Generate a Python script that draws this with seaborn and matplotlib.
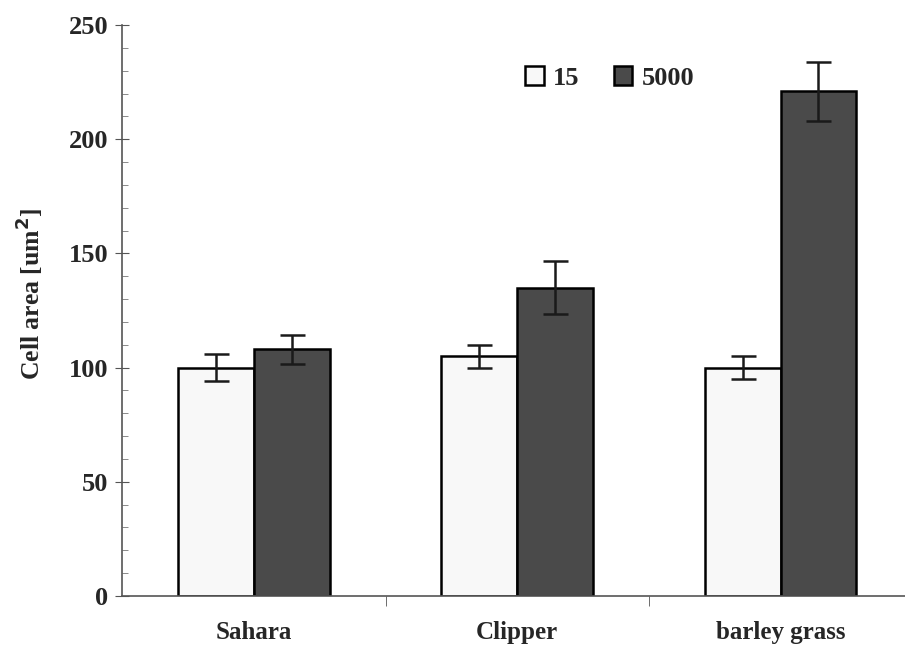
import matplotlib
matplotlib.use("Agg")
import matplotlib.pyplot as plt
import seaborn as sns
import pandas as pd
import numpy as np

categories = ["Sahara", "Clipper", "barley grass"]
groups = ["15", "5000"]
values_15 = [100, 105, 100]
values_5000 = [108, 135, 221]
err_15 = [6, 5, 5]
err_5000 = [6.3, 11.6, 13]

rows = []
for c, v in zip(categories, values_15):
    rows.append({"cat": c, "grp": "15", "val": v})
for c, v in zip(categories, values_5000):
    rows.append({"cat": c, "grp": "5000", "val": v})
df = pd.DataFrame(rows)

sns.set_style("ticks")
plt.rcParams['font.family'] = ['Liberation Serif', 'DejaVu Serif']
plt.rcParams['font.weight'] = 'bold'

fig = plt.figure(figsize=(9.05, 6.45), dpi=100)
ax = fig.add_axes([0.135, 0.076, 0.873, 0.885])

palette = {"15": "#f8f8f8", "5000": "#4a4a4a"}
sns.barplot(data=df, x="cat", y="val", hue="grp", hue_order=groups,
            order=categories, palette=palette, edgecolor="black",
            linewidth=1.8, width=0.575, errorbar=None, ax=ax, saturation=1)

for cont, errs in zip(ax.containers, [err_15, err_5000]):
    for bar, e in zip(cont, errs):
        xc = bar.get_x() + bar.get_width() / 2
        ax.errorbar(xc, bar.get_height(), yerr=e, fmt="none", ecolor="#1a1a1a",
                    elinewidth=1.8, capsize=9, capthick=1.8, zorder=5)

ax.set_ylim(0, 250)
ax.set_xlim(-0.5, 2.5)
ax.set_yticks(np.arange(0, 251, 50))
ax.set_yticks(np.arange(0, 251, 10), minor=True)
ax.set_xticks([0.5, 1.5], minor=True)
ax.set_xticks(range(len(categories)))
ax.set_xticklabels(categories, fontsize=18, fontweight="bold")
ax.tick_params(axis="x", which="major", length=0, pad=18)
ax.tick_params(axis="x", which="minor", length=7, direction="out", color="#555555")
ax.tick_params(axis="y", which="major", length=10, direction="inout",
               labelsize=19, color="#555555", pad=5)
ax.tick_params(axis="y", which="minor", length=4, direction="in", color="#777777")
for lab in ax.get_yticklabels():
    lab.set_fontweight("bold")

ax.set_xlabel("")
ax.set_ylabel("Cell area [um$^\\mathbf{2}$]", fontsize=18.5, fontweight="bold")
ax.yaxis.set_label_coords(-0.098, 0.53)

for s in ["top", "right"]:
    ax.spines[s].set_visible(False)
for s in ["left", "bottom"]:
    ax.spines[s].set_color("#555555")
    ax.spines[s].set_linewidth(1.2)

handles, labels = ax.get_legend_handles_labels()
leg = ax.legend(handles, labels, loc="upper left", bbox_to_anchor=(0.48, 0.97),
                ncol=2, frameon=False, handlelength=0.7, handleheight=0.7,
                handletextpad=0.35, columnspacing=1.3, prop={"size": 19, "weight": "bold"})

fig.savefig("out.png", dpi=100)
